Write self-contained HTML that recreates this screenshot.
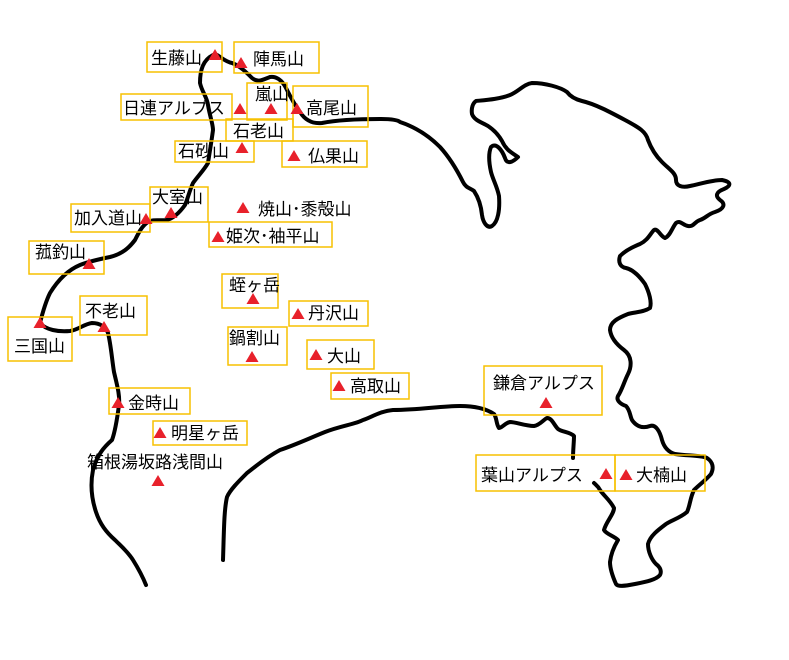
<!DOCTYPE html>
<html><head><meta charset="utf-8"><style>
html,body{margin:0;padding:0;background:#fff;}
svg{display:block;}
text{font-family:"Liberation Sans","Noto Sans CJK JP",sans-serif;font-size:17px;fill:#000;}
.b{fill:none;stroke:#f7c100;stroke-width:1.5;}
.c{fill:none;stroke:#000;stroke-width:4;stroke-linejoin:round;stroke-linecap:round;}
</style></head><body>
<svg width="789" height="660" viewBox="0 0 789 660" xmlns="http://www.w3.org/2000/svg">
<defs><polygon id="t" points="0,-6 6.5,5 -6.5,5" fill="#e8212b"/></defs>
<path class="c" d="M213,55 C203,60 200,70 200,83 C202,92 207,97 208,105 C210,117 213,124 213,130 C212,138 210,150 208,163 C204,170 198,176 193,183 C189,192 188,198 185,205 C180,212 174,218 167,220 C160,221 153,219 148,222 C142,226 139,232 135,240 C129,248 122,254 110,257 C100,259 90,261 80,265 C68,270 58,280 50,293 C45,303 42,315 40,323 C46,330 58,332 70,331 C78,330 84,324 92,323 C100,323 106,327 108,333 C111,345 112,360 114,372 C117,385 120,395 119,405 C117,420 115,432 112,440 C104,447 97,455 93,470 C90,485 92,500 96,512 C100,524 106,532 115,540 C122,547 128,552 133,560 C138,568 142,575 146,585"/>
<path class="c" d="M217,55 C222,58 226,62 232,63 C240,66 246,72 252,78 C258,83 262,80 270,77 C276,76 282,80 286,88 C290,96 294,104 300,112 C305,120 312,124 322,123 C332,121 350,119 380,119 C392,119 398,120 400,122 C415,127 428,135 440,147 C450,158 457,170 463,182 C466,188 470,188 474,191 C478,197 481,205 482,215 C483,222 487,229 492,226 C498,222 500,210 499,196 C497,186 493,180 491,172 C489,163 488,154 491,147 C496,142 502,150 505,158 C507,165 513,162 518,157 C512,153 506,150 502,141 C498,134 494,130 488,126 C481,122 474,120 472,114 C471,108 473,103 476,101 C486,100 500,99 510,95 C518,92 524,84 532,83 C545,83 560,87 567,92 C570,96 574,99 582,101 C595,104 610,112 625,120 C640,128 646,132 648,140 C651,148 655,155 662,162 C670,170 676,173 676,180 C676,186 682,188 690,186 C700,184 712,180 722,180 C732,182 731,186 724,189 C716,192 715,196 720,200 C726,204 724,209 715,212 C708,214 706,218 700,220 C694,222 694,227 688,226 C682,225 681,220 676,223 C672,228 670,236 665,238 C660,236 658,228 654,230 C650,234 648,240 640,244 C630,248 624,252 620,256 C618,262 620,267 626,268 C634,270 640,277 645,284 C649,292 652,302 650,308 C644,312 636,312 628,314 C618,318 610,322 610,330 C611,338 616,344 624,350 C632,356 632,366 628,374 C624,382 622,390 618,396 C616,400 620,404 626,406 C630,410 630,416 632,420 C636,426 642,429 650,426 C656,424 660,432 662,440 C664,447 668,452 675,454 C688,456 700,455 707,458 C713,462 714,468 711,474 C706,480 700,484 694,490 C690,498 690,506 687,512 C680,518 672,520 666,524 C658,530 650,536 648,544 C648,552 652,560 656,564 C660,567 662,571 660,575 C656,580 645,582 635,584 C625,586 618,587 616,584 C612,575 610,568 610,562 C611,553 615,545 618,540 C614,536 606,534 604,530 C606,522 614,514 614,508 C610,500 604,496 600,490 C598,486 596,485 594,483"/>
<path class="c" d="M573,458 C573,450 574,442 574,436 C570,432 562,432 558,429 C554,425 552,418 547,418 C543,420 540,425 534,426 C525,426 516,422 510,422 C505,423 502,428 499,428 C496,424 497,418 494,414 C488,410 478,406 460,406 C440,406 420,410 393,410 C380,411 370,418 363,420 C356,424 340,426 325,432 C310,438 295,445 280,450 C265,458 255,467 247,473 C238,482 230,490 227,497 C224,510 224,530 223,560"/>
<rect class="b" x="147" y="42" width="75" height="30"/>
<rect class="b" x="234" y="42" width="85" height="31"/>
<rect class="b" x="121" y="94" width="111" height="26"/>
<rect class="b" x="247" y="83" width="40" height="37"/>
<rect class="b" x="293" y="86" width="75" height="41"/>
<rect class="b" x="226" y="119" width="67" height="22"/>
<rect class="b" x="175" y="141" width="79" height="21"/>
<rect class="b" x="282" y="141" width="85" height="26"/>
<rect class="b" x="150" y="187" width="58" height="35"/>
<rect class="b" x="71" y="204" width="79" height="28"/>
<rect class="b" x="209" y="222" width="123" height="25"/>
<rect class="b" x="29" y="241" width="75" height="33"/>
<rect class="b" x="222" y="274" width="56" height="34"/>
<rect class="b" x="289" y="301" width="79" height="25"/>
<rect class="b" x="8" y="317" width="64" height="44"/>
<rect class="b" x="80" y="296" width="67" height="39"/>
<rect class="b" x="228" y="327" width="59" height="38"/>
<rect class="b" x="307" y="340" width="67" height="29"/>
<rect class="b" x="331" y="373" width="78" height="26"/>
<rect class="b" x="109" y="388" width="81" height="26"/>
<rect class="b" x="153" y="421" width="94" height="24"/>
<rect class="b" x="484" y="366" width="118" height="49"/>
<rect class="b" x="476" y="455" width="139" height="36"/>
<rect class="b" x="615" y="455" width="90" height="36"/>
<text x="151" y="64">生藤山</text>
<text x="253" y="65">陣馬山</text>
<text x="123" y="114">日連アルプス</text>
<text x="255" y="100">嵐山</text>
<text x="306" y="114">高尾山</text>
<text x="233" y="137">石老山</text>
<text x="178" y="157">石砂山</text>
<text x="308" y="162">仏果山</text>
<text x="258" y="215">焼山･黍殻山</text>
<text x="152" y="203">大室山</text>
<text x="74" y="224">加入道山</text>
<text x="226" y="242">姫次･袖平山</text>
<text x="35" y="258">菰釣山</text>
<text x="229" y="291">蛭ヶ岳</text>
<text x="308" y="319">丹沢山</text>
<text x="14" y="352">三国山</text>
<text x="85" y="317">不老山</text>
<text x="229" y="344">鍋割山</text>
<text x="327" y="362">大山</text>
<text x="350" y="392">高取山</text>
<text x="128" y="409">金時山</text>
<text x="171" y="439">明星ヶ岳</text>
<text x="87" y="468">箱根湯坂路浅間山</text>
<text x="493" y="389">鎌倉アルプス</text>
<text x="481" y="481">葉山アルプス</text>
<text x="636" y="481">大楠山</text>
<use href="#t" x="215" y="55"/><use href="#t" x="241" y="63"/><use href="#t" x="240" y="109"/>
<use href="#t" x="271" y="109"/><use href="#t" x="297" y="109"/><use href="#t" x="242" y="148"/>
<use href="#t" x="294" y="156"/><use href="#t" x="243" y="208"/><use href="#t" x="171" y="213"/>
<use href="#t" x="146" y="219"/><use href="#t" x="218" y="237"/><use href="#t" x="89" y="264"/>
<use href="#t" x="253" y="299"/><use href="#t" x="298" y="314"/><use href="#t" x="40" y="323"/>
<use href="#t" x="104" y="327"/><use href="#t" x="252" y="357"/><use href="#t" x="316" y="355"/>
<use href="#t" x="339" y="386"/><use href="#t" x="118" y="403"/><use href="#t" x="160" y="433"/>
<use href="#t" x="158" y="481"/><use href="#t" x="546" y="403"/><use href="#t" x="606" y="474"/>
<use href="#t" x="626" y="475"/>
</svg>
</body></html>
